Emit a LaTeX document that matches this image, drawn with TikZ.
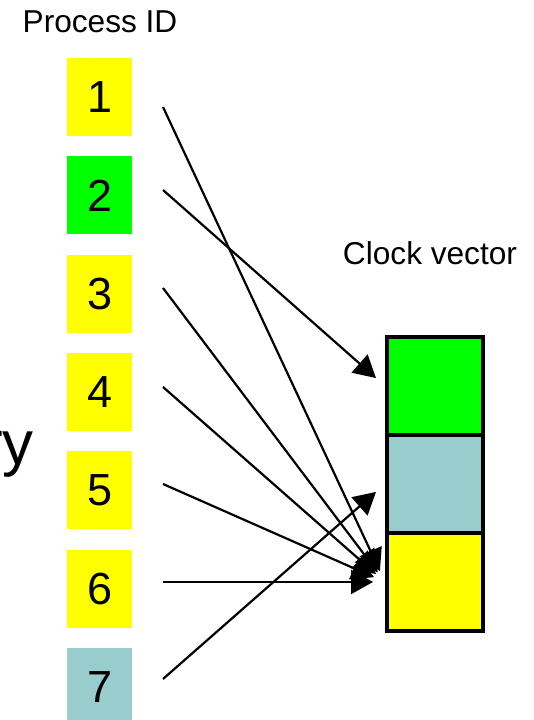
\documentclass[tikz,border=0pt]{standalone}
\usepackage{fontspec}
\setmainfont{Liberation Sans}
\usetikzlibrary{arrows.meta, positioning}
\definecolor{cYellow}{RGB}{255,255,0}
\definecolor{cGreen}{RGB}{0,255,0}
\definecolor{cTeal}{RGB}{153,204,204}

\begin{document}
\begin{tikzpicture}[
  pid/.style={minimum width=1.625cm, minimum height=1.95cm, inner sep=0pt,
              font=\fontsize{32}{36}\selectfont},
  cell/.style={draw, line width=0.1cm, minimum width=2.4cm, minimum height=2.45cm,
               inner sep=0pt},
  arr/.style={-{Triangle[length=0.55cm, width=0.6cm]}, line width=0.055cm,
              shorten >=0.3cm},
  lbl/.style={font=\fontsize{22.5}{26}\selectfont}
]

%% Canvas
\useasboundingbox (0,0) rectangle (13.325,18);

%% Headings
\node[lbl] (pid_title) at (2.5, 17.45) {Process ID};
\node[lbl] (clk_title) at (10.75, 11.675) {Clock vector};

%% Word running off the left edge
\node[anchor=base east, inner sep=0pt, font=\fontsize{44}{48}\selectfont]
  (word) at (0.85, 6.375) {ry};

%% Process ID boxes
\foreach \i/\col in {1/cYellow, 2/cGreen, 3/cYellow, 4/cYellow,
                     5/cYellow, 6/cYellow, 7/cTeal} {
  \node[pid, fill=\col] (p\i) at (2.49, {15.575 - (\i-1)*2.458}) {\i};
}

%% Clock vector cells
\node[cell, fill=cGreen]  (c1) at (10.875, 8.35) {};
\node[cell, fill=cTeal]   (c2) at (10.875, 5.9)  {};
\node[cell, fill=cYellow] (c3) at (10.875, 3.45) {};

%% Arrow tails, just right of each box
\foreach \i/\y in {1/15.325, 2/13.25, 3/10.8, 4/8.325, 5/5.9, 6/3.45, 7/1.025}
  \coordinate (s\i) at (4.075, \y);

%% Arrows into the clock vector
\draw[arr] (s1) -- (c3.west);
\draw[arr] (s2) -- (c1.west);
\draw[arr] (s3) -- (c3.west);
\draw[arr] (s4) -- (c3.west);
\draw[arr] (s5) -- (c3.west);
\draw[arr] (s6) -- (c3.west);
\draw[arr] (s7) -- (c2.west);

\end{tikzpicture}
\end{document}
